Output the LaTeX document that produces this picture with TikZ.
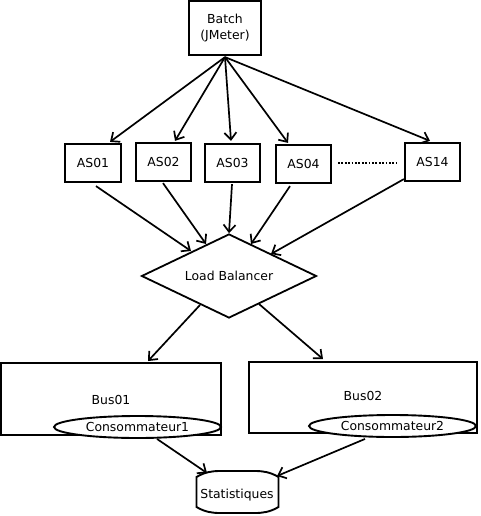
\documentclass[tikz,border=0pt]{standalone}
\usepackage{fontspec}
\setmainfont{DejaVu Sans}
\usetikzlibrary{shapes.geometric,arrows.meta,calc}
\begin{document}
\begin{tikzpicture}[x=1pt,y=-1pt,
  every node/.style={font=\fontsize{12.4}{15}\selectfont, text=black},
  box/.style={draw=black, line width=2.2pt, rectangle, inner sep=0pt},
  conn/.style={line width=1.7pt, -{Straight Barb[length=7pt,width=12pt,line width=1.7pt]}},
  ell/.style={draw=black, line width=1.9pt, ellipse, inner sep=0pt, fill=white}]
\useasboundingbox (0,0) rectangle (480,516);
\node[box, minimum width=72pt, minimum height=54pt, align=center] (b) at (225,28) {Batch\\[1pt](JMeter)};
\node[box, minimum width=56pt, minimum height=38pt] (as01) at (93,163) {AS01};
\node[box, minimum width=55pt, minimum height=38pt] (as02) at (163.5,162) {AS02};
\node[box, minimum width=55pt, minimum height=38pt] (as03) at (232.5,163) {AS03};
\node[box, minimum width=55pt, minimum height=38pt] (as04) at (303.5,164) {AS04};
\node[box, minimum width=55pt, minimum height=38pt] (as14) at (432.5,162) {AS14};
\coordinate (d1) at (338,163);
\coordinate (d2) at (396,163);
\draw[line width=1.9pt, dash pattern=on 1.8pt off 1.6pt] (d1) -- (d2);
\node[diamond, draw=black, line width=1.8pt, minimum width=175pt, minimum height=84pt, aspect=2.08, inner sep=0pt] (lb) at (229,276) {Load Balancer};
\coordinate (bs) at ($(b.south)+(0,1)$);
\draw[conn] (bs) -- ($(as01.north)+(17,-1)$);
\draw[conn] (bs) -- ($(as02.north)+(11.5,-1)$);
\draw[conn] (bs) -- ($(as03.north)+(-1.5,-2)$);
\draw[conn] (bs) -- ($(as04.north)+(-15.5,-1)$);
\draw[conn] (bs) -- ($(as14.north)+(-2.5,-1)$);
\draw[conn] ($(as01.south)+(3,3)$) -- (191,251);
\draw[conn] ($(as02.south)+(-0.5,1)$) -- (206,244);
\draw[conn] ($(as03.south)+(-0.5,1)$) -- (lb.north);
\draw[conn] ($(as04.south)+(-13.5,2)$) -- (251,244);
\draw[conn] ($(as14.south west)+(0,-3)$) -- (271,254);
\node[box, line width=1.9pt, minimum width=220pt, minimum height=72pt] (bus1) at (111,399) {};
\node[box, line width=1.9pt, minimum width=228pt, minimum height=71pt] (bus2) at (363,397.5) {};
\node (l1) at (111,400) {Bus01};
\node (l2) at (363,396) {Bus02};
\node[ell, minimum width=167pt, minimum height=22pt] (c1) at (137.5,427) {Consommateur1};
\node[ell, minimum width=167pt, minimum height=22pt] (c2) at (392.5,426) {Consommateur2};
\draw[conn] (200,305) -- ($(bus1.north)+(37,-1)$);
\draw[conn] (259,304) -- ($(bus2.north)+(-40,-2)$);
\draw[line width=1.9pt, fill=white] (196.5,477) .. controls (205,472) and (212,471) .. (220,471) -- (255,471) .. controls (263,471) and (270,472) .. (278.5,477) -- (278.5,507) .. controls (270,512) and (263,513) .. (255,513) -- (220,513) .. controls (212,513) and (205,512) .. (196.5,507) -- cycle;
\node (st) at (237,495) {Statistiques};
\coordinate (s1) at (207,473);
\coordinate (s2) at (277,476);
\draw[conn] ($(c1.south)+(19.5,0)$) -- (s1);
\draw[conn] ($(c2.south)+(-27.5,1)$) -- (s2);
\end{tikzpicture}
\end{document}
